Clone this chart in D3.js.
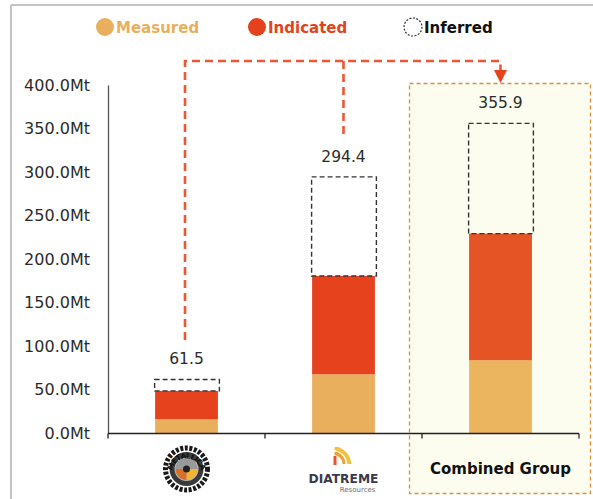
<!DOCTYPE html>
<html>
<head>
<meta charset="utf-8">
<script src="https://cdn.jsdelivr.net/npm/d3@7/dist/d3.min.js"></script>
<style>
  html, body { margin: 0; padding: 0; background: #ffffff; }
  svg { display: block; }
</style>
</head>
<body>
<svg id="chart" width="593" height="499"></svg>
<script>
// ---- data ----
const categories = ["Metallica", "Diatreme", "Combined Group"];
const measured  = [15.8, 67.5, 83.6];
const indicated = [32.6, 113.0, 145.6];
const inferred  = [13.1, 113.9, 126.7];
const totals    = [61.5, 294.4, 355.9];
const yTicks    = [0, 50, 100, 150, 200, 250, 300, 350, 400];
const seriesNames = ["Measured", "Indicated", "Inferred"];

// ---- styles ----
const colMeasured = "#EAAF5C";
const colIndicated = ["#E5421D", "#E5421D", "#E45424"];
const colMeasuredBars = ["#EAAF5C", "#EAAF5C", "#EBB45E"];
const connectorCol = "#EE5634";

const svg = d3.select("#chart");
const W = 593, H = 499;

// outer frame
svg.append("line").attr("x1", 11).attr("y1", 5).attr("x2", W).attr("y2", 5)
  .attr("stroke", "#c4c4c4").attr("stroke-width", 2);
svg.append("line").attr("x1", 11).attr("y1", 5).attr("x2", 11).attr("y2", H)
  .attr("stroke", "#c4c4c4").attr("stroke-width", 2);

const x = d3.scaleBand().domain(categories).range([108, 579]).padding(0);
const y = d3.scaleLinear().domain([0, 400]).range([433, 85]);
const barW = x.bandwidth() * 0.4;
const bx = c => x(c) + (x.bandwidth() - barW) / 2;
const cx = c => x(c) + x.bandwidth() / 2;

// combined group highlight box
svg.append("rect")
  .attr("x", 409.5).attr("y", 83.5).attr("width", 181).attr("height", 410)
  .attr("fill", "#FDFDEF").attr("stroke", "#D6903F").attr("stroke-width", 1.3)
  .attr("stroke-dasharray", "4,3");

// bars
const g = svg.append("g");
categories.forEach((c, i) => {
  g.append("rect").attr("x", bx(c)).attr("width", barW)
    .attr("y", y(measured[i])).attr("height", y(0) - y(measured[i]))
    .attr("fill", colMeasuredBars[i]);
  g.append("rect").attr("x", bx(c)).attr("width", barW)
    .attr("y", y(measured[i] + indicated[i])).attr("height", y(measured[i]) - y(measured[i] + indicated[i]))
    .attr("fill", colIndicated[i]);
  const top = y(measured[i] + indicated[i] + inferred[i]);
  const bot = y(measured[i] + indicated[i]);
  g.append("rect").attr("x", bx(c) - 0.5).attr("width", barW + 2)
    .attr("y", top).attr("height", bot - top)
    .attr("fill", "none").attr("stroke", "#333").attr("stroke-width", 1.4)
    .attr("stroke-dasharray", "5,3");
  g.append("text").attr("x", cx(c)).attr("y", top - 15)
    .attr("text-anchor", "middle")
    .attr("font-family", "DejaVu Sans, Verdana, sans-serif")
    .attr("font-size", 15.5).attr("fill", "#2b2b2b")
    .text(totals[i].toFixed(1));
});

// y axis
const yAxis = d3.axisLeft(y).tickValues(yTicks).tickSize(0).tickPadding(18)
  .tickFormat(d => d.toFixed(1) + "Mt");
const ya = svg.append("g").attr("transform", "translate(108,0)").call(yAxis);
ya.select(".domain").attr("stroke", "#555").attr("stroke-width", 1.3);
ya.selectAll("text").attr("font-family", "DejaVu Sans, Verdana, sans-serif")
  .attr("font-size", 16).attr("fill", "#2b2b2b");

// x axis
const xa = svg.append("g").attr("transform", "translate(0,433.5)");
xa.append("line").attr("x1", 108).attr("x2", 579).attr("stroke", "#222").attr("stroke-width", 1.3);
const bounds = categories.map(c => x(c)).concat([x.range()[1]]);
xa.selectAll("line.tk").data(bounds).join("line").attr("class", "tk")
  .attr("x1", d => d).attr("x2", d => d).attr("y1", 0).attr("y2", 5)
  .attr("stroke", "#222").attr("stroke-width", 1.3);

// category label: combined
svg.append("text").attr("x", cx(categories[2])).attr("y", 474)
  .attr("text-anchor", "middle").attr("font-family", "DejaVu Sans, Verdana, sans-serif")
  .attr("font-weight", "bold").attr("font-size", 15).attr("fill", "#111")
  .text(categories[2]);

// Metallica logo
(function () {
  const lx = cx(categories[0]), ly = 469;
  const lg = svg.append("g").attr("transform", `translate(${lx},${ly})`);
  lg.append("circle").attr("r", 21).attr("fill", "none").attr("stroke", "#1a1a1a")
    .attr("stroke-width", 5).attr("stroke-dasharray", "3,1.6");
  lg.append("circle").attr("r", 17).attr("fill", "#3a3a3a");
  lg.append("circle").attr("r", 12).attr("fill", "#b9b9b9");
  const arc = d3.arc().innerRadius(0).outerRadius(11);
  lg.append("path").attr("d", arc({ startAngle: Math.PI * 0.5, endAngle: Math.PI })).attr("fill", "#F2B532");
  lg.append("path").attr("d", arc({ startAngle: Math.PI, endAngle: Math.PI * 1.5 })).attr("fill", "#D9702A");
  lg.append("path").attr("d", arc({ startAngle: -Math.PI * 0.5, endAngle: Math.PI * 0.5 })).attr("fill", "#9a9a9a");
  lg.append("circle").attr("r", 3.5).attr("fill", "#222");
  lg.append("path").attr("id", "metArc").attr("fill", "none")
    .attr("d", "M -17 4 A 17 17 0 0 1 17 4");
  lg.append("text").attr("font-family", "DejaVu Sans, sans-serif").attr("font-weight", "bold")
    .attr("font-size", 7.5).attr("fill", "#111").attr("dy", 2.5)
    .append("textPath").attr("href", "#metArc").attr("startOffset", "50%")
    .attr("text-anchor", "middle").text("METALLICA");
})();

// Diatreme logo
(function () {
  const lx = cx(categories[1]);
  const lg = svg.append("g");
  lg.append("path").attr("d", `M ${lx - 9} 447 L ${lx - 5} 447 Q ${lx + 7} 452 ${lx + 8} 464 L ${lx + 4} 464 Q ${lx + 3} 453 ${lx - 9} 450 Z`).attr("fill", "#F3C040");
  lg.append("path").attr("d", `M ${lx - 9} 452 L ${lx - 6} 452 Q ${lx + 2} 456 ${lx + 2} 464 L ${lx - 1} 464 Q ${lx - 1} 457 ${lx - 9} 455 Z`).attr("fill", "#F0A030");
  lg.append("rect").attr("x", lx - 10).attr("y", 456).attr("width", 3).attr("height", 9).attr("fill", "#E4532A");
  lg.append("text").attr("x", lx).attr("y", 483).attr("text-anchor", "middle")
    .attr("font-family", "DejaVu Sans, sans-serif").attr("font-weight", "bold")
    .attr("font-size", 12).attr("fill", "#3b3a4c").attr("textLength", 70)
    .attr("lengthAdjust", "spacingAndGlyphs").text("DIATREME");
  lg.append("text").attr("x", lx + 32).attr("y", 492).attr("text-anchor", "end")
    .attr("font-family", "DejaVu Sans, sans-serif").attr("font-size", 7)
    .attr("fill", "#6a6a7a").text("Resources");
})();

// connector dashed lines
const yConn = 61;
const c0 = cx(categories[0]) - 1.5, c1 = cx(categories[1]), c2 = cx(categories[2]);
const conn = svg.append("g").attr("fill", "none").attr("stroke", connectorCol)
  .attr("stroke-width", 2.6).attr("stroke-dasharray", "8,5");
conn.append("path").attr("d", `M ${c0} 340 L ${c0} ${yConn} L ${c2} ${yConn} L ${c2} 70`);
conn.append("path").attr("d", `M ${c1} ${yConn} L ${c1} 134`);
svg.append("path").attr("d", `M ${c2 - 6.5} 70 L ${c2 + 6.5} 70 L ${c2} 83 Z`).attr("fill", "#E5421D");

// legend
const legend = svg.append("g");
const legX = [105, 257, 413];
const legCols = [colMeasured, "#E5411C", "#111"];
seriesNames.forEach((s, i) => {
  const c = legend.append("circle").attr("cx", legX[i]).attr("cy", 27).attr("r", 9);
  if (i < 2) c.attr("fill", legCols[i]);
  else c.attr("fill", "none").attr("stroke", "#333").attr("stroke-width", 1.2).attr("stroke-dasharray", "2,1.5");
  legend.append("text").attr("x", legX[i] + 11).attr("y", 32.5)
    .attr("font-family", "DejaVu Sans, Verdana, sans-serif").attr("font-weight", "bold")
    .attr("font-size", 15).attr("fill", legCols[i]).text(s);
});
</script>
</body>
</html>
